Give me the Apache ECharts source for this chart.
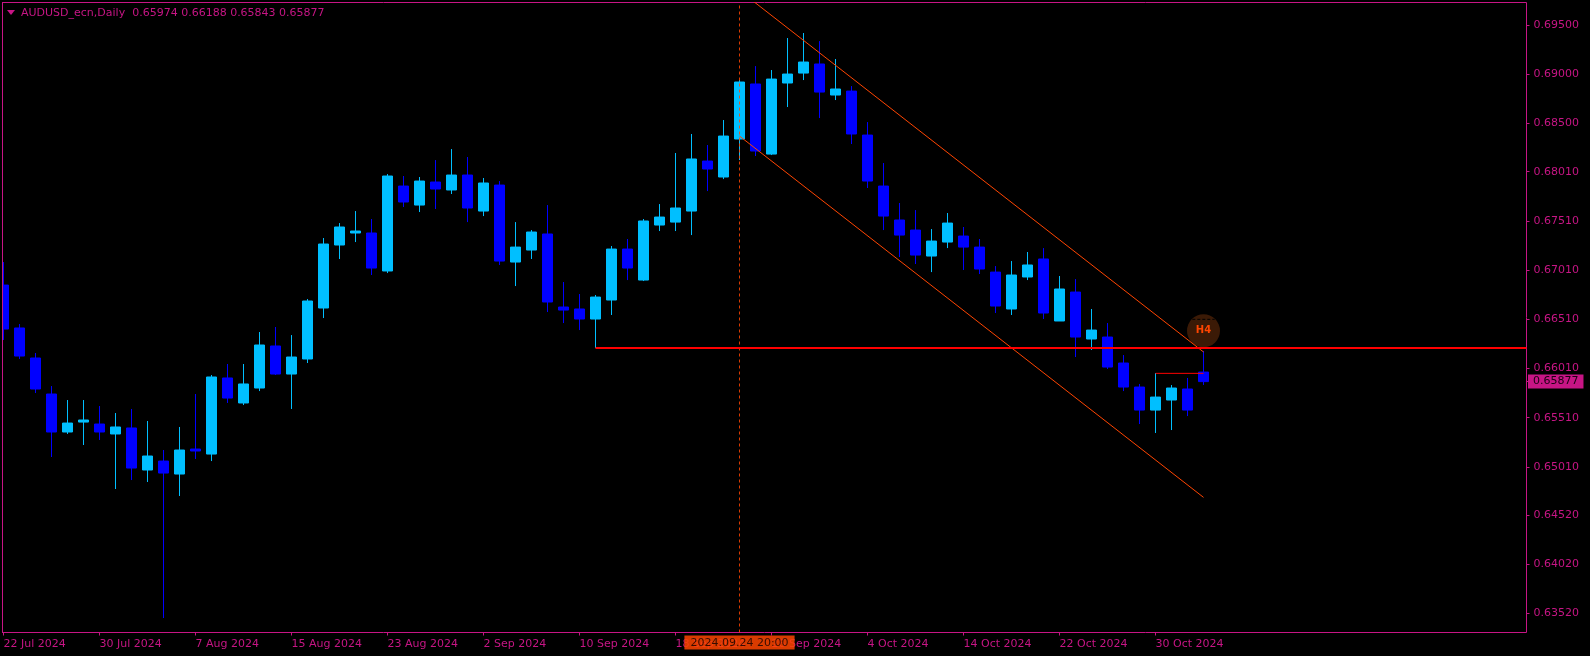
<!DOCTYPE html>
<html>
<head>
<meta charset="utf-8">
<title>AUDUSD_ecn,Daily</title>
<script src="https://cdn.jsdelivr.net/npm/echarts@6/dist/echarts.min.js"></script>
<style>
  html, body { margin: 0; padding: 0; background: #000; }
  #main { width: 1590px; height: 656px; }
</style>
</head>
<body>
<div id="main"></div>
<script>
  const opens = [
    0.66858,0.66422,0.66117,0.65751,0.65365,0.65466,0.65446,0.65345,0.65406,0.64979,
    0.65070,0.64938,0.65192,0.65141,0.65914,0.65660,0.65812,0.66239,0.65954,0.66107,
    0.66625,0.67265,0.67387,0.67387,0.67001,0.67864,0.67671,0.67905,0.67824,0.67976,
    0.67610,0.67874,0.67092,0.67214,0.67377,0.66635,0.66615,0.66513,0.66706,0.67224,
    0.66909,0.67468,0.67498,0.67610,0.68118,0.67956,0.68342,0.68901,0.68189,0.68911,
    0.69012,0.69104,0.68789,0.68829,0.68382,0.67864,0.67519,0.67417,0.67153,0.67295,
    0.67356,0.67244,0.66990,0.66615,0.66940,0.67123,0.66493,0.66787,0.66310,0.66330,
    0.66066,0.65822,0.65588,0.65690,0.65802,0.65974
  ];
  const closes = [
    0.66411,0.66137,0.65802,0.65365,0.65456,0.65487,0.65365,0.65416,0.64999,0.65121,
    0.64948,0.65182,0.65172,0.65924,0.65710,0.65853,0.66249,0.65954,0.66127,0.66696,
    0.67275,0.67448,0.67407,0.67031,0.67966,0.67702,0.67915,0.67834,0.67976,0.67641,
    0.67895,0.67102,0.67244,0.67397,0.66686,0.66604,0.66513,0.66736,0.67224,0.67031,
    0.67509,0.67549,0.67641,0.68139,0.68037,0.68372,0.68921,0.68220,0.68951,0.69002,
    0.69124,0.68819,0.68850,0.68393,0.67915,0.67559,0.67366,0.67163,0.67305,0.67488,
    0.67244,0.67021,0.66645,0.66960,0.67062,0.66574,0.66818,0.66330,0.66401,0.66025,
    0.65822,0.65588,0.65720,0.65812,0.65588,0.65877
  ];
  const lows = [
    0.66300,0.66107,0.65761,0.65111,0.65345,0.65233,0.65284,0.64786,0.64877,0.64857,
    0.63475,0.64715,0.65091,0.65070,0.65660,0.65639,0.65781,0.65944,0.65599,0.66066,
    0.66523,0.67123,0.67295,0.66960,0.66980,0.67651,0.67600,0.67631,0.67783,0.67498,
    0.67559,0.67062,0.66848,0.67123,0.66584,0.66472,0.66401,0.66218,0.66554,0.66909,
    0.66899,0.67407,0.67407,0.67366,0.67813,0.67935,0.68128,0.68169,0.68179,0.68667,
    0.68941,0.68555,0.68738,0.68291,0.67844,0.67417,0.67143,0.67072,0.66990,0.67234,
    0.67011,0.66970,0.66574,0.66554,0.66909,0.66513,0.66493,0.66127,0.66198,0.66005,
    0.65781,0.65446,0.65355,0.65385,0.65527,0.65843
  ];
  const highs = [
    0.67092,0.66462,0.66168,0.65832,0.65690,0.65690,0.65629,0.65558,0.65599,0.65477,
    0.65182,0.65416,0.65751,0.65944,0.66056,0.66056,0.66381,0.66432,0.66350,0.66716,
    0.67336,0.67488,0.67610,0.67529,0.67986,0.67966,0.67956,0.68128,0.68240,0.68159,
    0.67946,0.67915,0.67498,0.67417,0.67671,0.66889,0.66767,0.66757,0.67255,0.67326,
    0.67529,0.67681,0.68200,0.68393,0.68281,0.68535,0.68941,0.69083,0.69043,0.69368,
    0.69419,0.69337,0.69155,0.68880,0.68514,0.68098,0.67692,0.67620,0.67427,0.67590,
    0.67448,0.67326,0.67051,0.67102,0.67194,0.67234,0.66950,0.66919,0.66615,0.66472,
    0.66147,0.65853,0.65964,0.65842,0.65914,0.66188
  ];

  const dateTicks = [0, 6, 12, 18, 24, 30, 36, 42, 48, 54, 60, 66, 72];
  const dateLabels = ['22 Jul 2024', '30 Jul 2024', '7 Aug 2024', '15 Aug 2024', '23 Aug 2024', '2 Sep 2024',
    '10 Sep 2024', '18 Sep 2024', '26 Sep 2024', '4 Oct 2024', '14 Oct 2024', '22 Oct 2024', '30 Oct 2024'];
  const priceTicks = [0.695, 0.69, 0.685, 0.6801, 0.6751, 0.6701, 0.6651, 0.6601, 0.6551, 0.6501, 0.6452, 0.6402, 0.6352];

  const channelUpper = [[46, 0.69851], [75, 0.66178]];
  const channelLower = [[46, 0.68372], [75, 0.64701]];
  const levelLong = [[37, 0.66218], [95.1875, 0.66218]];
  const levelShort = [[72, 0.65961], [75, 0.65961]];
  const bubble = [[75, 0.66394]];
  const bubbleDash = [[74.3, 0.66510], [75.7, 0.66510]];
  const lastPrice = 0.65877;
  const crossIndex = 46;
  const crossLabel = '2024.09.24 20:00';
  const titleText = 'AUDUSD_ecn,Daily  0.65974 0.66188 0.65843 0.65877';

  const frameColor = '#C71585';
  const bullColor = '#00BFFF';
  const bearColor = '#0000FF';
  const orange = '#FF4500';
  const fontName = 'DejaVu Sans';

  const candles = opens.map((o, i) => [i, o, closes[i], lows[i], highs[i]]);

  function lineSeries(data, color, width, type) {
    return {
      type: 'line',
      data: data,
      showSymbol: false,
      silent: true,
      clip: true,
      z: 5,
      lineStyle: { color: color, width: width, type: type || 'solid' }
    };
  }

  const chart = echarts.init(document.getElementById('main'));
  chart.setOption({
    animation: false,
    backgroundColor: '#000',
    title: {
      text: titleText,
      left: 21,
      top: 8,
      padding: 0,
      textStyle: { color: frameColor, fontSize: 11, fontWeight: 'normal', fontFamily: fontName }
    },
    graphic: [
      // the first candle is cut by the frame, candlestick clip keeps it whole
      { type: 'rect', z: 100, shape: { x: 0, y: 0, width: 2, height: 656 }, style: { fill: '#000' } },
      { type: 'rect', z: 100, shape: { x: 2, y: 2, width: 1, height: 631 }, style: { fill: frameColor } },
      { type: 'polygon', z: 100, shape: { points: [[7, 10], [15, 10], [11, 15]] }, style: { fill: frameColor } }
    ],
    grid: {
      left: 2.5, top: 2.5, width: 1524, height: 630,
      show: true, borderColor: frameColor, borderWidth: 1, backgroundColor: '#000'
    },
    xAxis: {
      type: 'value',
      min: -0.0625,
      max: 95.1875,
      splitLine: { show: false },
      axisLine: { show: false, onZero: false },
      axisTick: { show: true, length: 3, customValues: dateTicks, lineStyle: { color: frameColor } },
      axisLabel: {
        customValues: dateTicks,
        color: frameColor,
        fontFamily: fontName,
        fontSize: 11,
        align: 'left',
        margin: 6,
        formatter: v => dateLabels[dateTicks.indexOf(v)]
      }
    },
    yAxis: {
      type: 'value',
      position: 'right',
      min: 0.63328,
      max: 0.69729,
      scale: true,
      splitLine: { show: false },
      axisLine: { show: false, onZero: false },
      axisTick: { show: true, length: 3, customValues: priceTicks.concat([lastPrice]), lineStyle: { color: frameColor } },
      axisLabel: {
        customValues: priceTicks,
        color: frameColor,
        fontFamily: fontName,
        fontSize: 11,
        margin: 7,
        padding: [2, 0, 0, 0],
        formatter: v => v.toFixed(5)
      }
    },
    series: [
      {
        type: 'scatter',
        data: bubble,
        symbolSize: 33,
        silent: true,
        z: 1,
        itemStyle: { color: '#3B1A06', opacity: 1 },
        label: {
          show: true,
          position: 'inside',
          formatter: 'H4',
          color: orange,
          fontFamily: fontName,
          fontSize: 10,
          fontWeight: 'bold'
        }
      },
      lineSeries(bubbleDash, '#000', 1, [3, 2]),
      {
        type: 'candlestick',
        data: candles,
        barWidth: 10,
        z: 3,
        silent: true,
        itemStyle: {
          color: bullColor,
          color0: bearColor,
          borderColor: bullColor,
          borderColor0: bearColor,
          borderWidth: 1
        },
        markLine: {
          silent: true,
          symbol: ['none', 'none'],
          animation: false,
          precision: 5,
          data: [
            {
              xAxis: crossIndex,
              lineStyle: { color: orange, width: 1, type: [3, 3], opacity: 0.85 },
              label: {
                show: true,
                position: 'start',
                formatter: crossLabel,
                distance: 3,
                color: '#1a0500',
                backgroundColor: orange,
                fontFamily: fontName,
                fontSize: 11,
                padding: [2, 6, 1, 6]
              }
            },
            {
              yAxis: lastPrice,
              lineStyle: { color: 'rgba(0,0,0,0)', width: 1 },
              label: {
                show: true,
                position: 'end',
                formatter: lastPrice.toFixed(5),
                distance: 1.5,
                color: '#1a0012',
                backgroundColor: frameColor,
                fontFamily: fontName,
                fontSize: 11,
                padding: [2, 5, 1, 5]
              }
            }
          ]
        }
      },
      lineSeries(channelUpper, orange, 1),
      lineSeries(channelLower, orange, 1),
      lineSeries(levelLong, '#FF0000', 2),
      lineSeries(levelShort, '#FF0000', 1)
    ]
  });
</script>
</body>
</html>
